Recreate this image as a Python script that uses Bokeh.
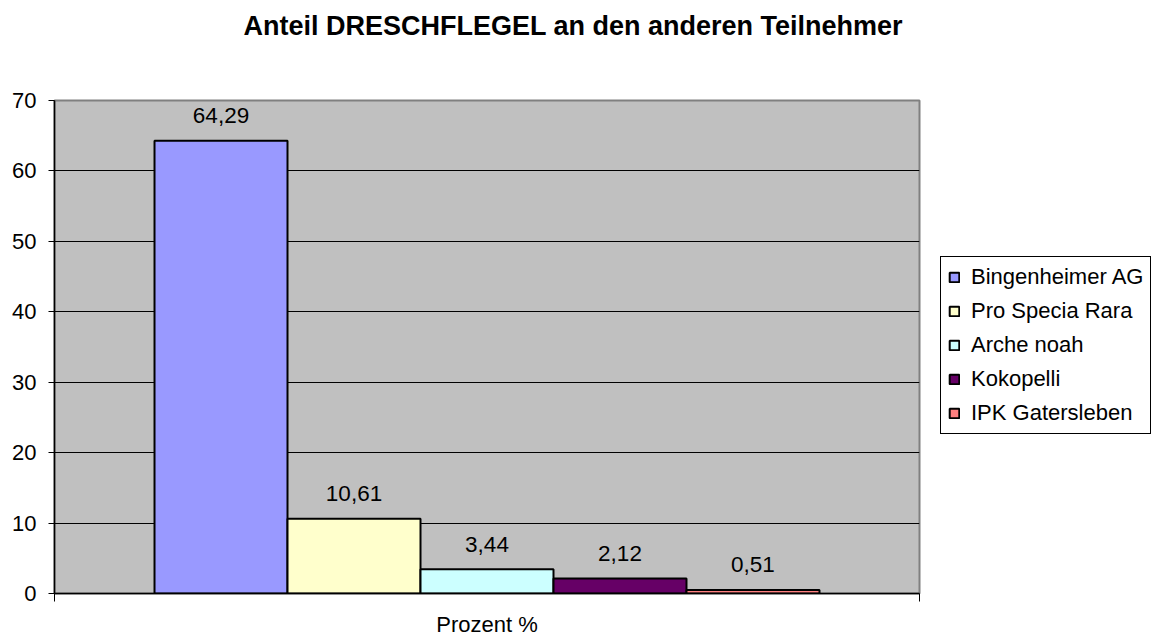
from bokeh.plotting import figure
from bokeh.models import Range1d, FixedTicker, Legend, LegendItem, Title, ColumnDataSource
from bokeh.core.properties import value
from bokeh.embed import file_html
from bokeh.resources import INLINE

title_text = "Anteil DRESCHFLEGEL an den anderen Teilnehmer"
series = ["Bingenheimer AG", "Pro Specia Rara", "Arche noah", "Kokopelli", "IPK Gatersleben"]
values = [64.29, 10.61, 3.44, 2.12, 0.51]
colors = ["#9999FF", "#FFFFCC", "#CCFFFF", "#660066", "#FF8080"]
x_label = "Prozent %"
y_ticks = [0, 10, 20, 30, 40, 50, 60, 70]

FONT = "Liberation Sans"
xs = list(range(len(series)))
labels = [f"{v:.2f}".replace(".", ",") for v in values]
pad = 0.752

p = figure(frame_width=865, frame_height=493, output_backend="svg", toolbar_location=None,
           x_range=Range1d(-0.5 - pad, len(series) - 0.5 + pad), y_range=Range1d(0, 70),
           min_border_left=54, min_border_top=100, min_border_right=236, min_border_bottom=40)
p.title.text = ""
# spacer between frame and title (closest to frame)
p.add_layout(Title(text=" ", text_font=FONT, text_font_size="20px", standoff=29), "above")
p.add_layout(Title(text=title_text, text_font=FONT, text_font_size="27px", text_font_style="bold",
                   align="left", offset=189, text_color="black", vertical_align="top",
                   standoff=10), "above")
p.background_fill_color = "#C0C0C0"
p.border_fill_color = "white"
p.outline_line_color = "#808080"
p.outline_line_width = 2

renderers = []
for i in xs:
    src = ColumnDataSource(dict(x=[xs[i]], top=[values[i]]))
    r = p.vbar(x="x", top="top", width=1.0, bottom=0, source=src, fill_color=colors[i],
               line_color="black", line_width=2)
    renderers.append(r)

p.text(x=xs, y=values, text=labels, text_font=value(FONT), text_font_size="22.5px",
       text_align="center", text_baseline="alphabetic", y_offset=-25, text_color="black")

# y axis
p.yaxis.ticker = FixedTicker(ticks=y_ticks)
p.yaxis.major_label_text_font = FONT
p.yaxis.major_label_text_font_size = "22px"
p.yaxis.major_label_text_color = "black"
p.yaxis.major_label_standoff = 12
p.yaxis.major_tick_out = 6
p.yaxis.major_tick_in = 0
p.yaxis.minor_tick_line_color = None
p.yaxis.axis_line_color = "black"
p.yaxis.axis_line_width = 1.5
p.yaxis.major_tick_line_color = "black"

# x axis
p.xaxis.ticker = FixedTicker(ticks=[-0.5 - pad, len(series) - 0.5 + pad])
p.xaxis.major_label_text_font_size = "0px"
p.xaxis.major_label_standoff = 0
p.xaxis.major_tick_out = 8
p.xaxis.major_tick_in = 0
p.xaxis.minor_tick_line_color = None
p.xaxis.axis_line_color = "black"
p.xaxis.axis_line_width = 1.5
p.xaxis.axis_label = x_label
p.xaxis.axis_label_text_font = FONT
p.xaxis.axis_label_text_font_size = "22px"
p.xaxis.axis_label_text_font_style = "normal"
p.xaxis.axis_label_text_color = "black"
p.xaxis.axis_label_standoff = 10

p.xgrid.grid_line_color = None
p.ygrid.grid_line_color = "black"
p.ygrid.grid_line_width = 1

legend = Legend(items=[LegendItem(label=series[i], renderers=[renderers[i]]) for i in xs],
                location=(21, 159), margin=0, padding=7, spacing=8,
                glyph_width=12, glyph_height=12, label_standoff=11,
                label_text_font=FONT, label_text_font_size="22px", label_text_color="black",
                border_line_color="black", border_line_width=1, border_line_alpha=1.0,
                background_fill_color="white", background_fill_alpha=1.0)
p.add_layout(legend, "right")

open("out.html", "w").write(file_html(p, INLINE))
